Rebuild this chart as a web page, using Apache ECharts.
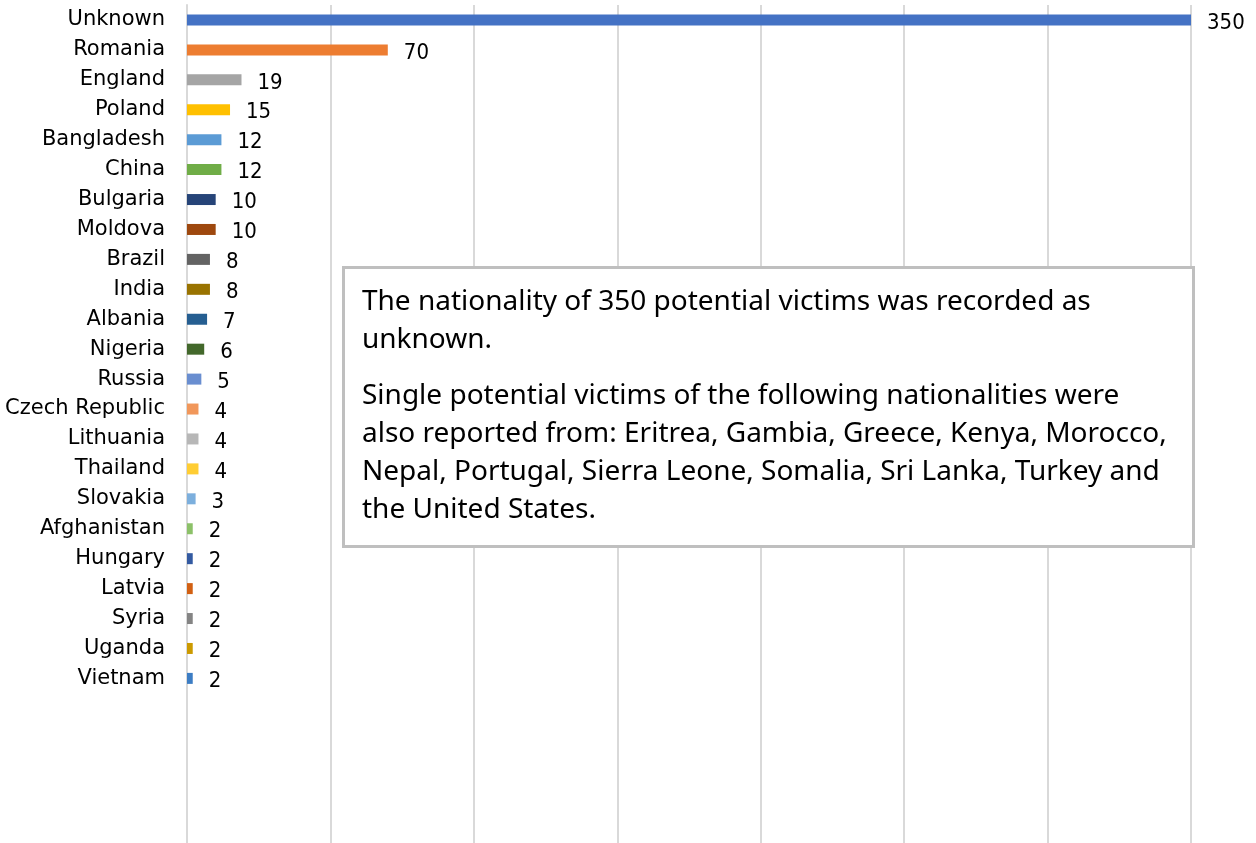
<!DOCTYPE html>
<html>
<head>
<meta charset="utf-8">
<script src="https://cdn.jsdelivr.net/npm/echarts@6/dist/echarts.min.js"></script>
<style>
  html, body { margin: 0; padding: 0; background: #fff; }
  #main { width: 1256px; height: 843px; }
</style>
</head>
<body>
<div id="main"></div>
<script>
var countries = ['Unknown', 'Romania', 'England', 'Poland', 'Bangladesh', 'China', 'Bulgaria',
    'Moldova', 'Brazil', 'India', 'Albania', 'Nigeria', 'Russia', 'Czech Republic', 'Lithuania',
    'Thailand', 'Slovakia', 'Afghanistan', 'Hungary', 'Latvia', 'Syria', 'Uganda', 'Vietnam'];
var victims = [350, 70, 19, 15, 12, 12, 10, 10, 8, 8, 7, 6, 5, 4, 4, 4, 3, 2, 2, 2, 2, 2, 2];
var barColors = ['#4472C4', '#ED7D31', '#A5A5A5', '#FFC000', '#5B9BD5', '#70AD47', '#264478',
    '#9E480E', '#636363', '#997300', '#255E91', '#43682B', '#698ED0', '#F1975A', '#B7B7B7',
    '#FFCD33', '#7CAFDD', '#8CC168', '#335AA1', '#D26012', '#848484', '#CC9A00', '#3C7DC4'];
var xTicks = [0, 50, 100, 150, 200, 250, 300, 350];

var noteText = 'The nationality of 350 potential victims was recorded as\nunknown.\n' +
    '{gap|}\nSingle potential victims of the following nationalities were\n' +
    'also reported from: Eritrea, Gambia, Greece, Kenya, Morocco,\n' +
    'Nepal, Portugal, Sierra Leone, Somalia, Sri Lanka, Turkey and\nthe United States.';

var labelFont = 'Tahoma, "DejaVu Sans", sans-serif';
var valueFont = 'Tahoma, "DejaVu Sans Condensed", "DejaVu Sans", sans-serif';

var myChart = echarts.init(document.getElementById('main'));
myChart.setOption({
    animation: false,
    grid: { left: 187, right: 65, top: 5, bottom: 0 },
    xAxis: {
        type: 'value',
        min: xTicks[0],
        max: xTicks[xTicks.length - 1],
        interval: 50,
        axisLabel: { show: false },
        axisLine: { show: false },
        axisTick: { show: false },
        splitLine: { lineStyle: { color: '#d9d9d9', width: 2 } }
    },
    yAxis: {
        type: 'category',
        data: countries,
        inverse: true,
        max: 27,
        axisLine: { show: true, lineStyle: { color: '#d9d9d9', width: 2 } },
        axisTick: { show: false },
        axisLabel: {
            interval: 0,
            margin: 22,
            color: '#000',
            fontSize: 21,
            fontFamily: labelFont
        }
    },
    series: [{
        type: 'bar',
        barWidth: 11,
        data: victims.map(function (v, i) {
            return { value: v, itemStyle: { color: barColors[i] } };
        }),
        label: {
            show: true,
            position: 'right',
            distance: 16,
            offset: [0, 3],
            color: '#000',
            fontSize: 22,
            fontFamily: valueFont
        }
    }],
    graphic: [{
        type: 'rect',
        left: 342,
        top: 266,
        shape: { width: 850, height: 279 },
        style: { fill: '#fff', stroke: '#bfbfbf', lineWidth: 3 },
        z: 10
    }, {
        type: 'text',
        left: 362,
        top: 283,
        z: 11,
        style: {
            text: noteText,
            fill: '#000',
            font: '28px "Noto Sans", "Open Sans", sans-serif',
            lineHeight: 38,
            rich: { gap: { lineHeight: 18, fontSize: 10 } }
        }
    }]
});
</script>
</body>
</html>
